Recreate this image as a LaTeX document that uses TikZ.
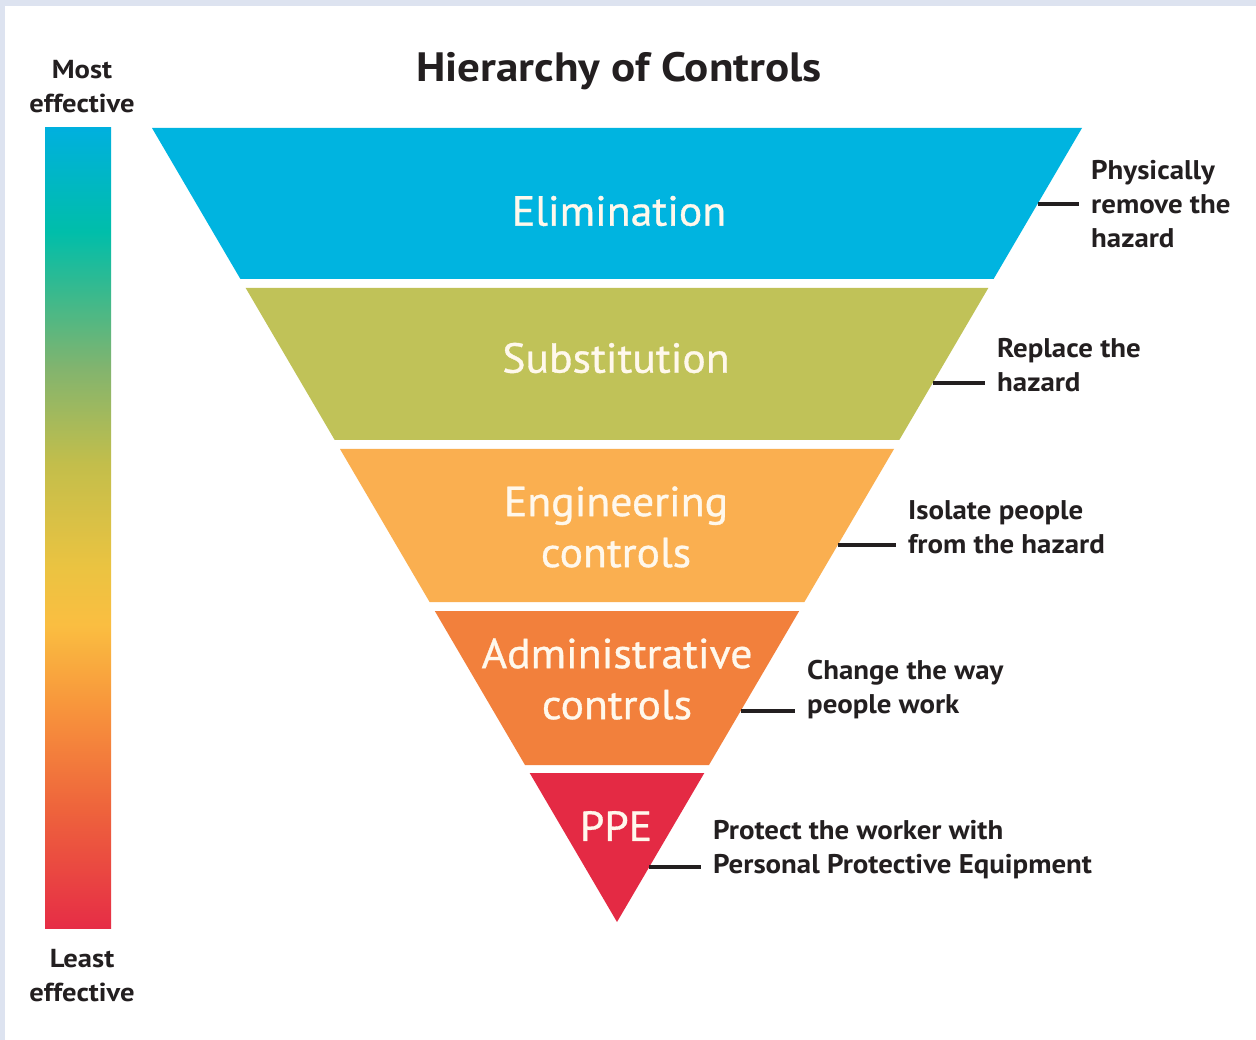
\documentclass[tikz,border=0pt]{standalone}
\usepackage{fontspec}
\setmainfont{PT Sans}
\newfontfamily\wideA[FakeStretch=1.07]{PT Sans}
\newfontfamily\wideB[FakeStretch=1.1]{PT Sans}
\newfontfamily\wideC[FakeStretch=1.04,FakeBold=0.8]{PT Sans}
\usetikzlibrary{calc}
\definecolor{frame}{HTML}{DDE3F0}
\definecolor{ink}{HTML}{231F20}
\definecolor{bandtext}{HTML}{FFF8EC}
\definecolor{cElim}{HTML}{00B4E0}
\definecolor{cSubs}{HTML}{C0C258}
\definecolor{cEng}{HTML}{FAAF50}
\definecolor{cAdm}{HTML}{F2803C}
\definecolor{cPPE}{HTML}{E42A44}
\definecolor{barC}{RGB}{0,176,222}
\definecolor{barT}{RGB}{0,190,170}
\definecolor{barTG}{RGB}{60,185,140}
\definecolor{barG}{RGB}{130,180,110}
\definecolor{barOl}{RGB}{195,190,75}
\definecolor{barY}{RGB}{235,195,65}
\definecolor{barYO}{RGB}{250,190,65}
\definecolor{barO}{RGB}{248,150,60}
\definecolor{barOR}{RGB}{238,100,60}
\definecolor{barR}{RGB}{230,45,70}
% stops mapped into the central 25bp..75bp band used by \shade
\pgfdeclareverticalshading{effbar}{100bp}{color(0bp)=(barR); color(25bp)=(barR); color(32.5bp)=(barOR); color(39bp)=(barO); color(44bp)=(barYO); color(47.5bp)=(barY); color(54bp)=(barOl); color(60bp)=(barG); color(64.5bp)=(barTG); color(68.5bp)=(barT); color(75bp)=(barC); color(100bp)=(barC)}
\begin{document}
\begin{tikzpicture}[x=1pt,y=-1pt,
  bandlabel/.style={text=bandtext, font=\wideC\fontsize{42}{51}\selectfont, align=center, inner sep=0pt},
  note/.style={text=ink, font=\wideA\bfseries\fontsize{27}{34}\selectfont, align=left, anchor=west, inner xsep=12pt, inner ysep=0pt},
  sidelabel/.style={text=ink, font=\wideB\bfseries\fontsize{26}{34}\selectfont, align=center, inner sep=0pt},
  conn/.style={draw=ink, line width=3.8pt}]
\useasboundingbox (0,0) rectangle (1256,1040);
\fill[frame] (0,0) rectangle (1256,1040);
\fill[white] (5,6) rectangle (1256,1040);

% title
\node[text=ink, font=\wideB\bfseries\fontsize{41}{44}\selectfont, inner sep=0pt] (title) at (619,71) {Hierarchy of Controls};

% effectiveness bar
\shade[shading=effbar] (45,128) rectangle (111,928);
\node[sidelabel] (most) at (82,87) {Most\\effective};
\node[sidelabel] (least) at (82,976) {Least\\effective};

% bands
\fill[cElim] (152,128) -- (1082,128) -- (993.6,279) -- (240.4,279) -- cycle;
\fill[cSubs] (245.7,288) -- (988.3,288) -- (899.3,440) -- (334.7,440) -- cycle;
\fill[cEng] (340.0,449) -- (894.0,449) -- (804.4,602) -- (429.6,602) -- cycle;
\fill[cAdm] (434.8,611) -- (799.2,611) -- (709.0,765) -- (525.0,765) -- cycle;
\fill[cPPE] (529.7,773) -- (704.3,773) -- (617,922) -- cycle;

\node[bandlabel] (elim) at (619,211) {Elimination};
\node[bandlabel] (subs) at (616,358) {Substitution};
\node[bandlabel] (eng) at (616,527) {Engineering\\controls};
\node[bandlabel] (adm) at (617,679) {Administrative\\controls};
\node[bandlabel] (ppe) at (616,826) {PPE};

% notes and connectors
\node[note] (n1) at (1079,204) {Physically\\remove the\\hazard};
\node[note] (n2) at (985,365) {Replace the\\hazard};
\node[note] (n3) at (896,527) {Isolate people\\from the hazard};
\node[note] (n4) at (795,690) {Change the way\\people work};
\node[note] (n5) at (701,850) {Protect the worker with\\Personal Protective Equipment};

\coordinate (e1) at (1037.5,204);
\coordinate (e2) at (932.7,383);
\coordinate (e3) at (837.8,545);
\coordinate (e4) at (740.6,711);
\coordinate (e5) at (649.2,867);
\draw[conn] (e1) -- (n1.west |- e1);
\draw[conn] (e2) -- (n2.west |- e2);
\draw[conn] (e3) -- (n3.west |- e3);
\draw[conn] (e4) -- (n4.west |- e4);
\draw[conn] (e5) -- (n5.west |- e5);
\end{tikzpicture}
\end{document}
